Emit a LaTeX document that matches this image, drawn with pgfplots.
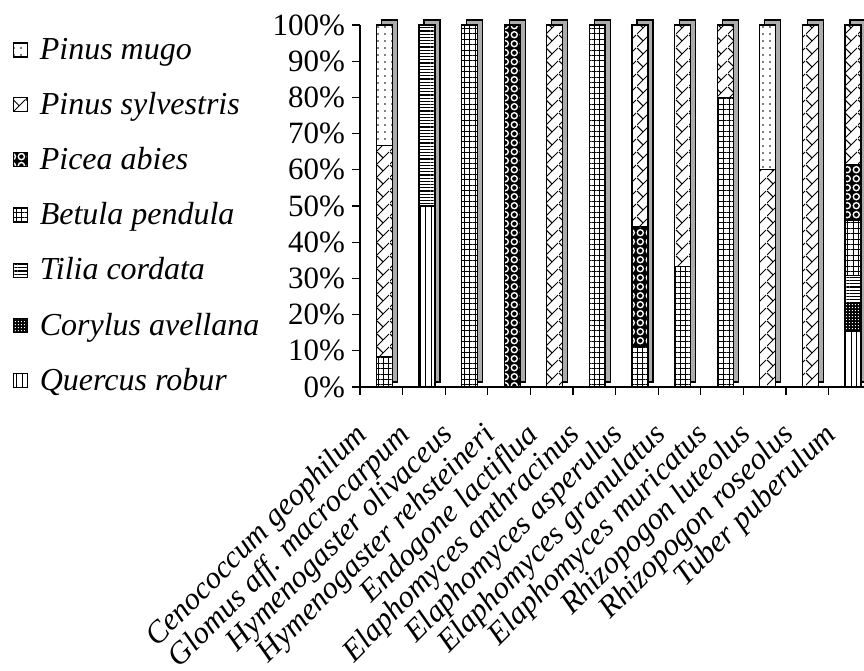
\documentclass[border=0pt]{standalone}
\usepackage{fontspec}
\setmainfont{Liberation Serif}
\usepackage{pgfplots}
\usepackage{pgfplotstable}
\pgfplotsset{compat=1.18}
\usetikzlibrary{patterns,patterns.meta}

% fill patterns for the tree species
\tikzdeclarepattern{
  name=herringbone,
  type=uncolored,
  bounding box={(0pt,0pt) and (6.5pt,6.5pt)},
  tile size={(6.5pt,6.5pt)},
  code={
    \draw[line width=0.5pt] (0pt,0pt) -- (6.5pt,6.5pt);
    \draw[line width=0.5pt] (0pt,6.5pt) -- (3.25pt,3.25pt);
  }
}
\tikzdeclarepattern{
  name=rings,
  type=colored,
  bounding box={(0pt,0pt) and (4.4pt,4.4pt)},
  tile size={(4.4pt,4.4pt)},
  code={
    \fill[black] (0pt,0pt) rectangle (4.4pt,4.4pt);
    \draw[white, line width=0.7pt] (2.2pt,2.2pt) circle (1.55pt);
  }
}
\tikzdeclarepattern{
  name=finecheck,
  type=colored,
  bounding box={(0pt,0pt) and (1.4pt,1.4pt)},
  tile size={(1.4pt,1.4pt)},
  code={
    \fill[black] (0pt,0pt) rectangle (1.4pt,1.4pt);
    \fill[white] (0.4pt,0.4pt) rectangle (1.0pt,1.0pt);
  }
}

\pgfplotsset{
  box legend/.style={legend image code/.code={%
      \draw[##1] (0pt,-3.5pt) rectangle (7pt,3.5pt);}},
  sp/.style={draw=black, line width=0.6pt, fill=#1, box legend},
  mugo/.style={sp=white, postaction={pattern={Dots[distance=3.5pt, radius=0.45pt]}}},
  sylv/.style={sp=white, postaction={pattern=herringbone}},
  picea/.style={sp=black, postaction={pattern=rings}},
  betula/.style={sp=white, postaction={pattern={Hatch[distance=2.7pt, angle=0, line width=0.45pt]}}},
  tilia/.style={sp=white, postaction={pattern={Lines[distance=1.6pt, angle=0, line width=0.55pt]}}},
  corylus/.style={sp=black, postaction={pattern=finecheck}},
  quercus/.style={sp=white, postaction={pattern={Lines[distance=2.8pt, angle=90, line width=0.45pt]}}},
  frame/.style={
    width=252pt, height=181pt, scale only axis,
    xmin=-0.5, xmax=11.33, ymin=0, ymax=100,
    ybar stacked, bar width=8pt, bar shift=1.5pt,
  },
}

% share of host trees (%) per fungal species
\pgfplotstableread{
x quercus corylus tilia betula picea sylv mugo tot
0 0 0 0 8.33 0 58.33 33.34 100
1 50 0 50 0 0 0 0 100
2 0 0 0 100 0 0 0 100
3 0 0 0 0 100 0 0 100
4 0 0 0 0 0 100 0 100
5 0 0 0 100 0 0 0 100
6 0 0 0 11.11 33.33 55.56 0 100
7 0 0 0 33.33 0 66.67 0 100
8 0 0 0 80 0 20 0 100
9 0 0 0 0 0 60 40 100
10 0 0 0 0 0 100 0 100
11 15.38 7.69 7.69 15.38 15.38 38.46 0 100
}\shares

\begin{document}
\begin{tikzpicture}
% depth of the bars: side and top faces
\begin{axis}[frame, hide axis, xshift=2.5pt, yshift=2.5pt, clip=false]
  \addplot[draw=black, line width=0.6pt, fill=gray!65] table[x=x, y=tot] {\shares};
\end{axis}
% front faces, axes and legend
\begin{axis}[frame, clip=false,
  axis x line*=bottom, axis y line*=left,
  axis line style={line width=0.6pt},
  tick align=outside, major tick length=4pt,
  every tick/.style={black, line width=0.6pt},
  ytick={0,10,...,100},
  yticklabel={\pgfmathprintnumber{\tick}\%},
  yticklabel style={font=\fontsize{15.5}{18}\selectfont},
  xtick={-0.5,0.5,...,10.5}, xticklabels={},
  extra x ticks={0,1,...,11},
  extra x tick labels={Cenococcum geophilum, Glomus aff. macrocarpum,
    Hymenogaster olivaceus, Hymenogaster rehsteineri, Endogone lactiflua,
    Elaphomyces anthracinus, Elaphomyces asperulus, Elaphomyces granulatus,
    Elaphomyces muricatus, Rhizopogon luteolus, Rhizopogon roseolus,
    Tuber puberulum},
  extra x tick style={major tick length=0pt,
    tick label style={xshift=-14pt, yshift=-12pt, rotate=45, anchor=north east,
      font=\fontsize{15.5}{18}\selectfont\itshape}},
  /pgf/number format/assume math mode=true,
  reverse legend,
  legend cell align=left,
  legend style={at={(-0.69,0.9765)}, anchor=north west, draw=none,
    font=\fontsize{16}{19}\selectfont\itshape, row sep=11pt,
    column sep=4pt, inner sep=0pt},
]
  \addplot[quercus] table[x=x, y=quercus] {\shares};
  \addlegendentry{Quercus robur}
  \addplot[corylus] table[x=x, y=corylus] {\shares};
  \addlegendentry{Corylus avellana}
  \addplot[tilia] table[x=x, y=tilia] {\shares};
  \addlegendentry{Tilia cordata}
  \addplot[betula] table[x=x, y=betula] {\shares};
  \addlegendentry{Betula pendula}
  \addplot[picea] table[x=x, y=picea] {\shares};
  \addlegendentry{Picea abies}
  \addplot[sylv] table[x=x, y=sylv] {\shares};
  \addlegendentry{Pinus sylvestris}
  \addplot[mugo] table[x=x, y=mugo] {\shares};
  \addlegendentry{Pinus mugo}
  \coordinate (bbnw) at (rel axis cs:-0.7143,1.069);
  \coordinate (bbse) at (rel axis cs:1,-0.7845);
\end{axis}
\pgfresetboundingbox
\useasboundingbox (bbnw) rectangle (bbse);
\end{tikzpicture}
\end{document}
